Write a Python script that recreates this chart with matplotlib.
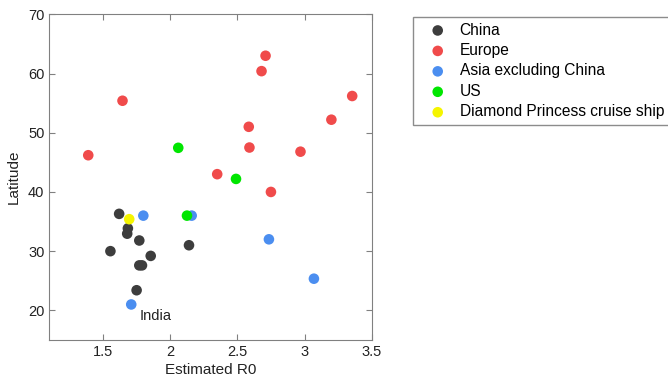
import matplotlib.pyplot as plt

plt.rcParams['font.family'] = ['Liberation Sans', 'DejaVu Sans']

# data (estimated R0, latitude)
china_r0 = [1.62, 1.685, 1.68, 1.77, 1.555, 2.14, 1.855, 1.77, 1.79, 1.75]
china_lat = [36.3, 33.85, 32.95, 31.8, 30.0, 31.0, 29.2, 27.6, 27.6, 23.4]

europe_r0 = [2.71, 2.68, 1.645, 3.355, 3.20, 2.585, 2.59, 2.97, 1.39, 2.35, 2.75]
europe_lat = [63.0, 60.4, 55.4, 56.2, 52.2, 51.0, 47.5, 46.8, 46.2, 43.0, 40.0]

asia_r0 = [2.16, 1.80, 2.735, 3.07, 1.71]
asia_lat = [36.0, 36.0, 32.0, 25.35, 21.0]

us_r0 = [2.06, 2.49, 2.125]
us_lat = [47.45, 42.2, 36.0]

ship_r0 = [1.695]
ship_lat = [35.4]

groups = [
    ('China', china_r0, china_lat, '#3d3d3d'),
    ('Europe', europe_r0, europe_lat, '#f04b4b'),
    ('Asia excluding China', asia_r0, asia_lat, '#4b8ef0'),
    ('US', us_r0, us_lat, '#00e600'),
    ('Diamond Princess cruise ship', ship_r0, ship_lat, '#f5f500'),
]

fig = plt.figure(figsize=(6.68, 3.8), dpi=100)
ax = fig.add_axes([0.0738, 0.1053, 0.4826, 0.8571])

for name, xs, ys, color in groups:
    ax.scatter(xs, ys, s=58, color=color, edgecolors='none', label=name, zorder=3)

ax.text(1.77, 19.1, 'India', fontsize=10.5, color='#222222', va='center', ha='left')

ax.set_xlim(1.1, 3.5)
ax.set_ylim(15, 70)
ax.set_xticks([1.5, 2, 2.5, 3, 3.5])
ax.set_xticklabels(['1.5', '2', '2.5', '3', '3.5'])
ax.set_yticks([20, 30, 40, 50, 60, 70])
ax.tick_params(direction='in', top=True, right=True, labelsize=10.5, length=4,
               color='#808080', labelcolor='#222222')
for sp in ax.spines.values():
    sp.set_color('#808080')

ax.set_xlabel('Estimated R0', fontsize=11, color='#222222', labelpad=3)
ax.set_ylabel('Latitude', fontsize=11, color='#222222', labelpad=5)

fig.legend(loc='upper left', bbox_to_anchor=(0.618, 0.955), fontsize=11.2,
           frameon=True, fancybox=False, edgecolor='#707070', borderpad=0.35,
           handletextpad=0.16, labelspacing=0.35, handlelength=2.5, borderaxespad=0)

fig.savefig('out.png', dpi=100)
